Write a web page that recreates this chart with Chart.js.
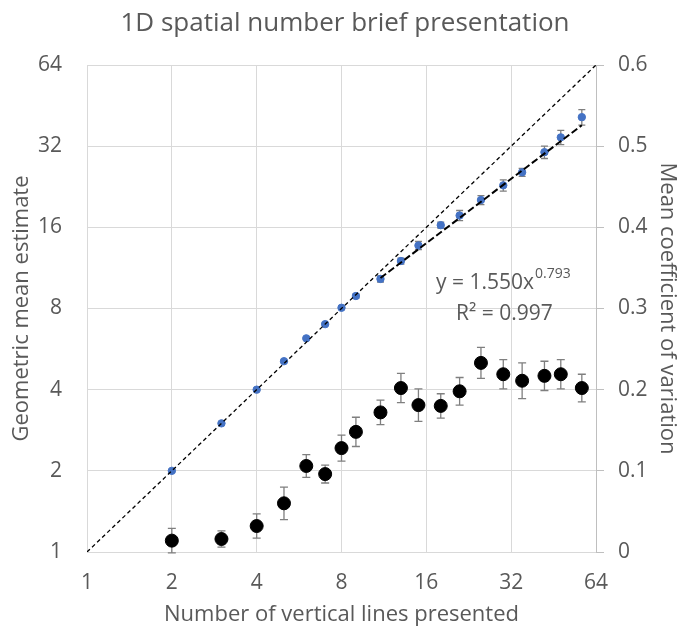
<!DOCTYPE html>
<html>
<head>
<meta charset="utf-8">
<script src="https://cdn.jsdelivr.net/npm/chart.js@4/dist/chart.umd.min.js"></script>
<style>
  html, body { margin: 0; padding: 0; background: #fff; }
  #wrap { width: 684px; height: 628px; }
</style>
</head>
<body>
<div id="wrap"><canvas id="myChart" width="684" height="628"></canvas></div>
<script>
// data
const lineCounts   = [2, 3, 4, 5, 6, 7, 8, 9, 11, 13, 15, 18, 21, 25, 30, 35, 42, 48, 57];
const meanEstimate = [2.0, 3.0, 4.0, 5.1, 6.2, 7.0, 8.05, 8.9, 10.3, 12.0, 13.7, 16.3, 17.7, 20.2, 22.9, 25.6, 30.4, 34.5, 41.0];
const estimateErr  = [0.02, 0.03, 0.03, 0.04, 0.05, 0.06, 0.07, 0.15, 0.27, 0.31, 0.48, 0.42, 0.77, 0.79, 1.1, 0.89, 1.6, 2.1, 2.7];
const meanCV       = [0.014, 0.016, 0.032, 0.060, 0.106, 0.096, 0.128, 0.148, 0.172, 0.202, 0.181, 0.180, 0.198, 0.233, 0.219, 0.211, 0.217, 0.219, 0.202];
const cvErr        = [0.015, 0.010, 0.015, 0.020, 0.014, 0.011, 0.016, 0.018, 0.015, 0.018, 0.020, 0.015, 0.017, 0.019, 0.018, 0.022, 0.018, 0.018, 0.017];
const logTicks = [1, 2, 4, 8, 16, 32, 64];
const cvTicks  = [0, 0.1, 0.2, 0.3, 0.4, 0.5, 0.6];
const fitCoef = 1.550, fitExp = 0.793, fitR2 = 0.997;
const fitRange = [11, 57];

const textColor = '#595959';
const gridColor = '#d9d9d9';
const fontName = "'Open Sans', sans-serif";

// error bars + free text
const extras = {
  id: 'extras',
  beforeDatasetsDraw(chart) {
    const c = chart.ctx;
    const x = chart.scales.x, y = chart.scales.y, y2 = chart.scales.y2;
    c.save();
    c.strokeStyle = '#7f7f7f';
    c.lineWidth = 1.3;
    lineCounts.forEach((n, i) => {
      const px = x.getPixelForValue(n);
      // estimate bars
      let a = y.getPixelForValue(meanEstimate[i] + estimateErr[i]);
      let b = y.getPixelForValue(meanEstimate[i] - estimateErr[i]);
      c.beginPath();
      c.moveTo(px, a); c.lineTo(px, b);
      c.moveTo(px - 3.5, a); c.lineTo(px + 3.5, a);
      c.moveTo(px - 3.5, b); c.lineTo(px + 3.5, b);
      c.stroke();
      // cv bars
      a = y2.getPixelForValue(meanCV[i] + cvErr[i]);
      b = y2.getPixelForValue(meanCV[i] - cvErr[i]);
      c.beginPath();
      c.moveTo(px, a); c.lineTo(px, b);
      c.moveTo(px - 4, a); c.lineTo(px + 4, a);
      c.moveTo(px - 4, b); c.lineTo(px + 4, b);
      c.stroke();
    });
    c.restore();
  },
  afterDraw(chart) {
    const c = chart.ctx;
    const area = chart.chartArea;
    c.save();
    c.fillStyle = textColor;
    c.textAlign = 'center';
    c.textBaseline = 'middle';
    c.font = '26px ' + fontName;
    c.fillText('1D spatial number brief presentation', 345, 24);
    c.font = '22px ' + fontName;
    c.fillText('Number of vertical lines presented', (area.left + area.right) / 2, 615);
    c.save();
    c.translate(22, (area.top + area.bottom) / 2);
    c.rotate(-Math.PI / 2);
    c.fillText('Geometric mean estimate', 0, 0);
    c.restore();
    c.save();
    c.translate(667, (area.top + area.bottom) / 2);
    c.rotate(Math.PI / 2);
    c.fillText('Mean coefficient of variation', 0, 0);
    c.restore();
    // trendline label
    c.textAlign = 'left';
    c.textBaseline = 'alphabetic';
    c.font = '21px ' + fontName;
    const main = 'y = ' + fitCoef.toFixed(3) + 'x';
    c.fillText(main, 436, 289);
    const w = c.measureText(main).width;
    c.font = '14px ' + fontName;
    c.fillText(fitExp.toFixed(3), 436 + w + 1, 278);
    c.font = '21px ' + fontName;
    c.fillText('R\u00B2 = ' + fitR2.toFixed(3), 456, 320);
    c.restore();
  }
};

const ctx = document.getElementById('myChart').getContext('2d');
const myChart = new Chart(ctx, {
  type: 'scatter',
  data: {
    datasets: [
      {
        type: 'line',
        label: 'Power fit',
        data: fitRange.map(n => ({ x: n, y: fitCoef * Math.pow(n, fitExp) })),
        borderColor: '#000',
        borderWidth: 2,
        borderDash: [7, 3],
        pointRadius: 0,
        yAxisID: 'y'
      },
      {
        type: 'line',
        label: 'Identity',
        data: [{ x: logTicks[0], y: logTicks[0] }, { x: logTicks[logTicks.length - 1], y: logTicks[logTicks.length - 1] }],
        borderColor: '#000',
        borderWidth: 1.3,
        borderDash: [4, 3],
        pointRadius: 0,
        yAxisID: 'y'
      },
      {
        label: 'Geometric mean estimate',
        data: lineCounts.map((n, i) => ({ x: n, y: meanEstimate[i] })),
        backgroundColor: '#4472C4',
        borderColor: '#4472C4',
        pointRadius: 3.7,
        yAxisID: 'y'
      },
      {
        label: 'Mean coefficient of variation',
        data: lineCounts.map((n, i) => ({ x: n, y: meanCV[i] })),
        backgroundColor: '#000',
        borderColor: '#000',
        pointRadius: 6.5,
        yAxisID: 'y2'
      }
    ]
  },
  options: {
    responsive: false,
    animation: false,
    layout: { padding: { top: 65, left: 0, right: 0, bottom: 0 } },
    plugins: {
      legend: { display: false },
      tooltip: { enabled: false }
    },
    scales: {
      x: {
        type: 'logarithmic',
        min: 1, max: 64,
        afterBuildTicks: s => { s.ticks = logTicks.map(v => ({ value: v })); },
        afterFit: s => { s.height = 76; },
        ticks: { callback: v => String(v), color: textColor, font: { family: fontName, size: 21 }, padding: 18, maxRotation: 0 },
        grid: { color: gridColor, drawTicks: false },
        border: { color: gridColor }
      },
      y: {
        type: 'logarithmic',
        position: 'left',
        min: 1, max: 64,
        afterBuildTicks: s => { s.ticks = logTicks.map(v => ({ value: v })); },
        afterFit: s => { s.width = 87; },
        ticks: { callback: v => String(v), color: textColor, font: { family: fontName, size: 21 }, padding: 25 },
        grid: { color: gridColor, drawTicks: false },
        border: { color: gridColor }
      },
      y2: {
        type: 'linear',
        position: 'right',
        min: 0, max: 0.6,
        afterBuildTicks: s => { s.ticks = cvTicks.map(v => ({ value: v })); },
        afterFit: s => { s.width = 88; },
        ticks: { callback: v => String(v), color: textColor, font: { family: fontName, size: 21 }, padding: 14 },
        grid: { drawOnChartArea: false, color: '#bfbfbf', tickLength: 8 },
        border: { color: '#bfbfbf' }
      }
    }
  },
  plugins: [extras]
});
</script>
</body>
</html>
